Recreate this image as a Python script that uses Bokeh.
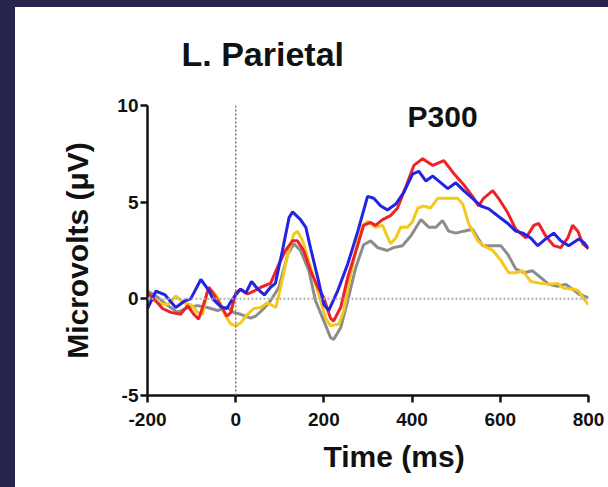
from bokeh.plotting import figure
from bokeh.models import Span, Label, FixedTicker, Title
from bokeh.embed import file_html
from bokeh.resources import INLINE

# ---- data (time in ms, amplitude in microvolts) ----
x_ticks = [-200, 0, 200, 400, 600, 800]
x_tick_labels = ["-200", "0", "200", "400", "600", "800"]
y_ticks = [-5, 0, 5, 10]
y_tick_labels = ["-5", "0", "5", "10"]

blue_t = [-200, -181, -160, -136, -115, -102, -79, -60, -52, -34, -20, -7, 11, 23, 36, 50, 65, 79, 90,
          106, 121, 129, 147, 159, 170, 186, 200, 211, 231, 254, 277, 299, 313, 329, 344, 363, 381, 401,
          415, 431, 447, 460, 481, 499, 517, 537, 556, 574, 594, 617, 635, 651, 669, 685, 703, 721, 737,
          755, 778, 790, 800]
blue_v = [-0.5, 0.4, 0.2, -0.45, -0.1, 0.0, 1.0, 0.4, 0.0, -0.4, -0.5, 0.0, 0.5, 0.3, 0.9, 0.5, 0.2, 0.6, 0.8,
          2.5, 4.2, 4.5, 4.1, 3.7, 2.6, 1.1, -0.3, -0.6, 0.4, 1.8, 3.5, 5.3, 5.2, 4.8, 4.6, 4.9, 5.5, 6.45,
          6.6, 6.1, 6.35, 6.1, 5.7, 6.0, 5.6, 5.2, 4.8, 4.65, 4.3, 3.9, 3.5, 3.4, 3.15, 2.75, 3.1, 3.4, 3.0,
          2.75, 3.1, 2.9, 2.6]

red_t = [-200, -185, -166, -147, -125, -109, -95, -84, -73, -61, -50, -34, -20, -11, 0, 11, 27, 41, 57, 79,
         98, 113, 129, 140, 154, 170, 186, 200, 215, 222, 238, 254, 277, 290, 306, 317, 333, 351, 367, 385,
         404, 424, 447, 472, 494, 517, 537, 551, 562, 583, 596, 617, 635, 658, 676, 687, 703, 721, 737, 753,
         764, 776, 787, 800]
red_v = [0.3, 0.0, -0.5, -0.7, -0.8, -0.35, -0.8, -1.05, -0.3, 0.6, 0.25, -0.35, -0.9, -0.7, 0.3, 0.5, 0.25, 0.4, 0.6, 0.8,
         1.8, 2.5, 3.0, 3.0, 2.5, 1.45, 0.6, 0.05, -1.0, -1.15, -0.45, 1.1, 2.8, 3.8, 3.95, 3.8, 4.1, 4.3, 4.7, 5.75,
         6.9, 7.25, 6.9, 7.15, 6.5, 5.9, 5.3, 4.8, 5.2, 5.6, 5.2, 4.45, 3.6, 3.15, 3.8, 3.9, 3.25, 2.75, 2.65, 3.15,
         3.8, 3.5, 2.85, 2.6]

yellow_t = [-200, -177, -154, -136, -118, -102, -86, -75, -64, -52, -39, -23, -11, 0, 11, 27, 41, 57, 72, 91,
            102, 118, 132, 140, 152, 170, 188, 204, 215, 234, 245, 261, 277, 288, 299, 317, 333, 351, 363, 374,
            390, 401, 413, 426, 442, 458, 481, 503, 515, 528, 549, 562, 583, 601, 619, 635, 651, 669, 692, 710,
            730, 744, 767, 778, 789, 800]
yellow_v = [0.05, -0.2, -0.3, 0.15, -0.2, -0.3, -0.7, -0.8, 0.4, 0.4, 0.0, -0.9, -1.3, -1.4, -1.25, -0.8, -0.5, -0.45, -0.2, -0.45,
            0.6, 2.3, 3.35, 3.5, 3.0, 1.6, 0.25, -1.0, -1.4, -1.3, -0.6, 1.3, 3.0, 3.8, 4.0, 3.7, 3.8, 2.85, 3.15, 3.7,
            3.7, 4.0, 4.7, 4.8, 4.7, 5.2, 5.2, 5.2, 4.9, 3.9, 3.0, 2.75, 2.5, 2.0, 1.35, 1.35, 1.45, 0.9, 0.8, 0.75,
            0.8, 0.55, 0.5, 0.4, 0.0, -0.3]

gray_t = [-200, -181, -154, -132, -109, -86, -64, -41, -18, -5, 11, 34, 45, 64, 79, 98, 118, 132, 147, 166,
          181, 200, 215, 222, 238, 254, 272, 290, 306, 322, 344, 358, 378, 397, 420, 438, 454, 469, 483, 499,
          517, 537, 549, 560, 578, 601, 617, 635, 653, 673, 692, 710, 730, 748, 764, 778, 800]
gray_v = [0.4, 0.15, -0.35, -0.7, -0.45, -0.35, -0.45, -0.6, -0.45, -0.7, -0.8, -1.0, -0.9, -0.5, -0.1, 0.6, 2.3, 2.85, 2.5, 1.45,
          -0.1, -1.15, -2.0, -2.1, -1.5, -0.1, 1.6, 2.8, 3.0, 2.65, 2.5, 2.65, 2.75, 3.25, 4.1, 3.7, 3.7, 4.05, 3.5, 3.4,
          3.5, 3.6, 3.15, 2.75, 2.75, 2.75, 2.3, 1.55, 1.35, 1.45, 1.1, 0.75, 0.65, 0.75, 0.5, 0.25, 0.05]

title_text = "L. Parietal"
peak_text = "P300"
x_label = "Time (ms)"
y_label = "Microvolts (\u03bcV)"

FONT = "Liberation Sans"
INK = "#111111"

p = figure(width=608, height=487, x_range=(-200, 800), y_range=(-5, 10),
           output_backend="svg", toolbar_location=None,
           min_border_left=147, min_border_right=20, min_border_top=105, min_border_bottom=92)
p.background_fill_color = "white"
p.border_fill_color = None
p.outline_line_color = None
p.grid.visible = False

p.title.text = title_text
p.title.align = "left"
p.title.vertical_align = "top"
p.title.offset = 34
p.title.standoff = 62
p.title.text_font = FONT
p.title.text_font_style = "bold"
p.title.text_font_size = "34px"
p.title.text_color = INK

for ax in (p.xaxis[0], p.yaxis[0]):
    ax.axis_line_width = 2.5
    ax.axis_line_color = INK
    ax.major_tick_line_width = 2.5
    ax.major_tick_line_color = INK
    ax.major_tick_out = 7
    ax.major_tick_in = 0
    ax.minor_tick_line_color = None
    ax.major_label_text_font = FONT
    ax.major_label_text_font_style = "bold"
    ax.major_label_text_font_size = "19px"
    ax.major_label_text_color = INK
    ax.axis_label_text_font = FONT
    ax.axis_label_text_font_style = "bold"
    ax.axis_label_text_font_size = "30px"
    ax.axis_label_text_color = INK

p.xaxis.ticker = FixedTicker(ticks=x_ticks)
p.yaxis.ticker = FixedTicker(ticks=y_ticks)
p.xaxis.major_label_overrides = dict(zip(x_ticks, x_tick_labels))
p.yaxis.major_label_overrides = dict(zip(y_ticks, y_tick_labels))
p.yaxis.axis_label = y_label
p.xaxis.major_label_standoff = 10
p.yaxis.major_label_standoff = 2
p.yaxis.axis_label_standoff = 20

# x-axis caption, set right of centre as in the reference
p.add_layout(Title(text=x_label, align="left", offset=176, standoff=18,
                   text_font=FONT, text_font_style="bold", text_font_size="30px",
                   text_color=INK), "below")

p.add_layout(Span(location=0, dimension="height", line_color="#7a7a7a", line_width=1.5, line_dash="2 2"))
p.add_layout(Span(location=0, dimension="width", line_color="#b0b0b0", line_width=2, line_dash="2 2"))

p.line(gray_t, gray_v, line_color="#8c8c8c", line_width=3)
p.line(yellow_t, yellow_v, line_color="#f5c81c", line_width=3)
p.line(red_t, red_v, line_color="#ee2229", line_width=3)
p.line(blue_t, blue_v, line_color="#2323e4", line_width=3)

p.add_layout(Label(x=469, y=9.42, text=peak_text, text_align="center", text_baseline="middle",
                   text_font=FONT, text_font_style="bold", text_font_size="30px", text_color=INK))

html = file_html(p, INLINE)
style = ("<style>html{height:100%;background:"
         "linear-gradient(#26244c,#26244c) 0 0/100% 7px no-repeat,"
         "linear-gradient(#26244c,#26244c) 0 0/15px 100% no-repeat,#ffffff;}"
         "body{background:transparent;}</style>")
html = html.replace("</head>", style + "</head>", 1)
open("out.html", "w").write(html)
